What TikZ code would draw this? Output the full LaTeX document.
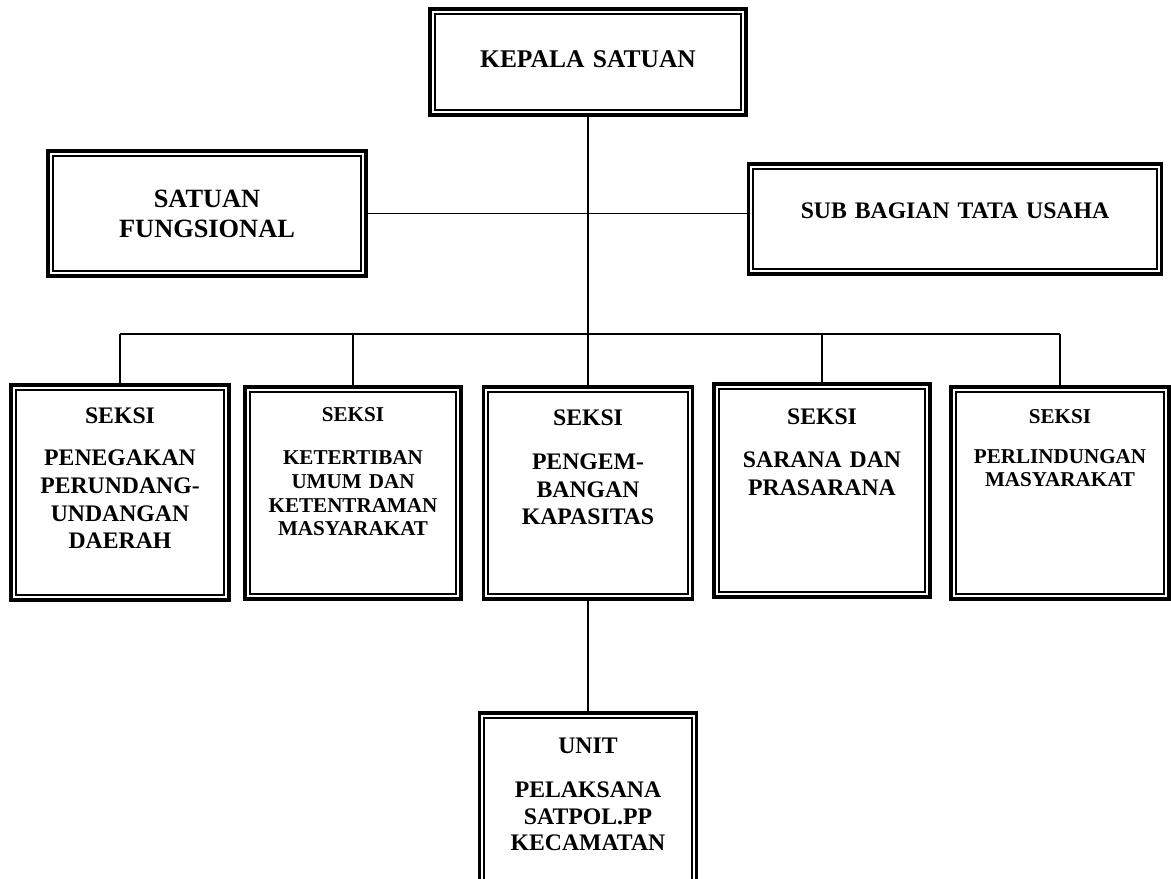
\documentclass[tikz,border=0pt]{standalone}
\usepackage{fontspec}
\setmainfont{Liberation Serif}
\usetikzlibrary{positioning}

\tikzset{
  orgbox/.style={draw, line width=2pt, outer sep=0pt, anchor=north,
    inner xsep=0pt, inner ysep=0pt, align=center, fill=white},
  innerframe/.style={line width=1.1pt},
  link/.style={line width=0.8pt}
}
\newcommand{\fs}[2]{\bfseries\fontsize{#1}{#2}\selectfont}

\begin{document}
\begin{tikzpicture}[x=0.2mm, y=-0.2mm]
  \useasboundingbox (0,0) rectangle (1171,879);

  % Top level
  \node[orgbox, minimum width=63.2mm, text width=58mm, text height=11.8mm, text depth=9.4mm,
        font=\fs{14.5}{17}] (kepala) at (588,9) {KEPALA SATUAN};

  % Staff level
  \node[orgbox, minimum width=63.6mm, text width=58mm, text height=11.3mm, text depth=13.7mm,
        font=\fs{15}{17}] (fungsi) at (207,151) {SATUAN\\FUNGSIONAL};
  \node[orgbox, minimum width=82.6mm, text width=78mm, text height=10.8mm, text depth=11.2mm,
        font=\fs{13.5}{16}] (subbag) at (955,164) {SUB BAGIAN TATA USAHA};

  % Seksi level
  \node[orgbox, minimum width=43.6mm, text width=40mm, text height=7.6mm, text depth=35.4mm,
        font=\fs{13.5}{15.7}] (s1) at (120,385) {SEKSI\\[8.7pt]PENEGAKAN\\PERUNDANG-\\UNDANGAN\\DAERAH};
  \node[orgbox, minimum width=43.2mm, text width=40mm, text height=6.8mm, text depth=35.6mm,
        font=\fs{12}{13.6}] (s2) at (353,387) {SEKSI\\[11pt]KETERTIBAN\\UMUM DAN\\KETENTRAMAN\\MASYARAKAT};
  \node[orgbox, minimum width=41.8mm, text width=39mm, text height=7.6mm, text depth=34.8mm,
        font=\fs{13.5}{15.6}] (s3) at (588,387) {SEKSI\\[10pt]PENGEM-\\BANGAN\\KAPASITAS};
  \node[orgbox, minimum width=43.2mm, text width=40mm, text height=8mm, text depth=34.6mm,
        font=\fs{13.5}{15.9}] (s4) at (822,384) {SEKSI\\[9pt]SARANA DAN\\PRASARANA};
  \node[orgbox, minimum width=43.6mm, text width=40mm, text height=7.2mm, text depth=35.2mm,
        font=\fs{12}{13.2}] (s5) at (1060,387) {SEKSI\\[10pt]PERLINDUNGAN\\MASYARAKAT};

  % Unit level
  \node[orgbox, minimum width=43.4mm, text width=40mm, text height=8mm, text depth=27mm,
        font=\fs{13.5}{15}] (unit) at (588,713) {UNIT\\[10.5pt]PELAKSANA\\SATPOL.PP\\KECAMATAN};

  % Inner lines of the frames
  \foreach \n in {kepala,fungsi,subbag,s1,s2,s3,s4,s5,unit}
    \draw[innerframe] ([shift={(2.7pt,2.7pt)}]\n.south west) rectangle ([shift={(-2.7pt,-2.7pt)}]\n.north east);

  % Connectors
  \coordinate (bar) at (588,334);
  \draw[link] (kepala.south) -- (s3.north);
  \draw[link] (fungsi.east) -- (fungsi.east -| subbag.west);
  \draw[link] (s1.north |- bar) -- (s5.north |- bar);
  \foreach \s in {s1,s2,s4,s5}
    \draw[link] (\s.north |- bar) -- (\s.north);
  \draw[link] (s3.south) -- (unit.north);
\end{tikzpicture}
\end{document}
